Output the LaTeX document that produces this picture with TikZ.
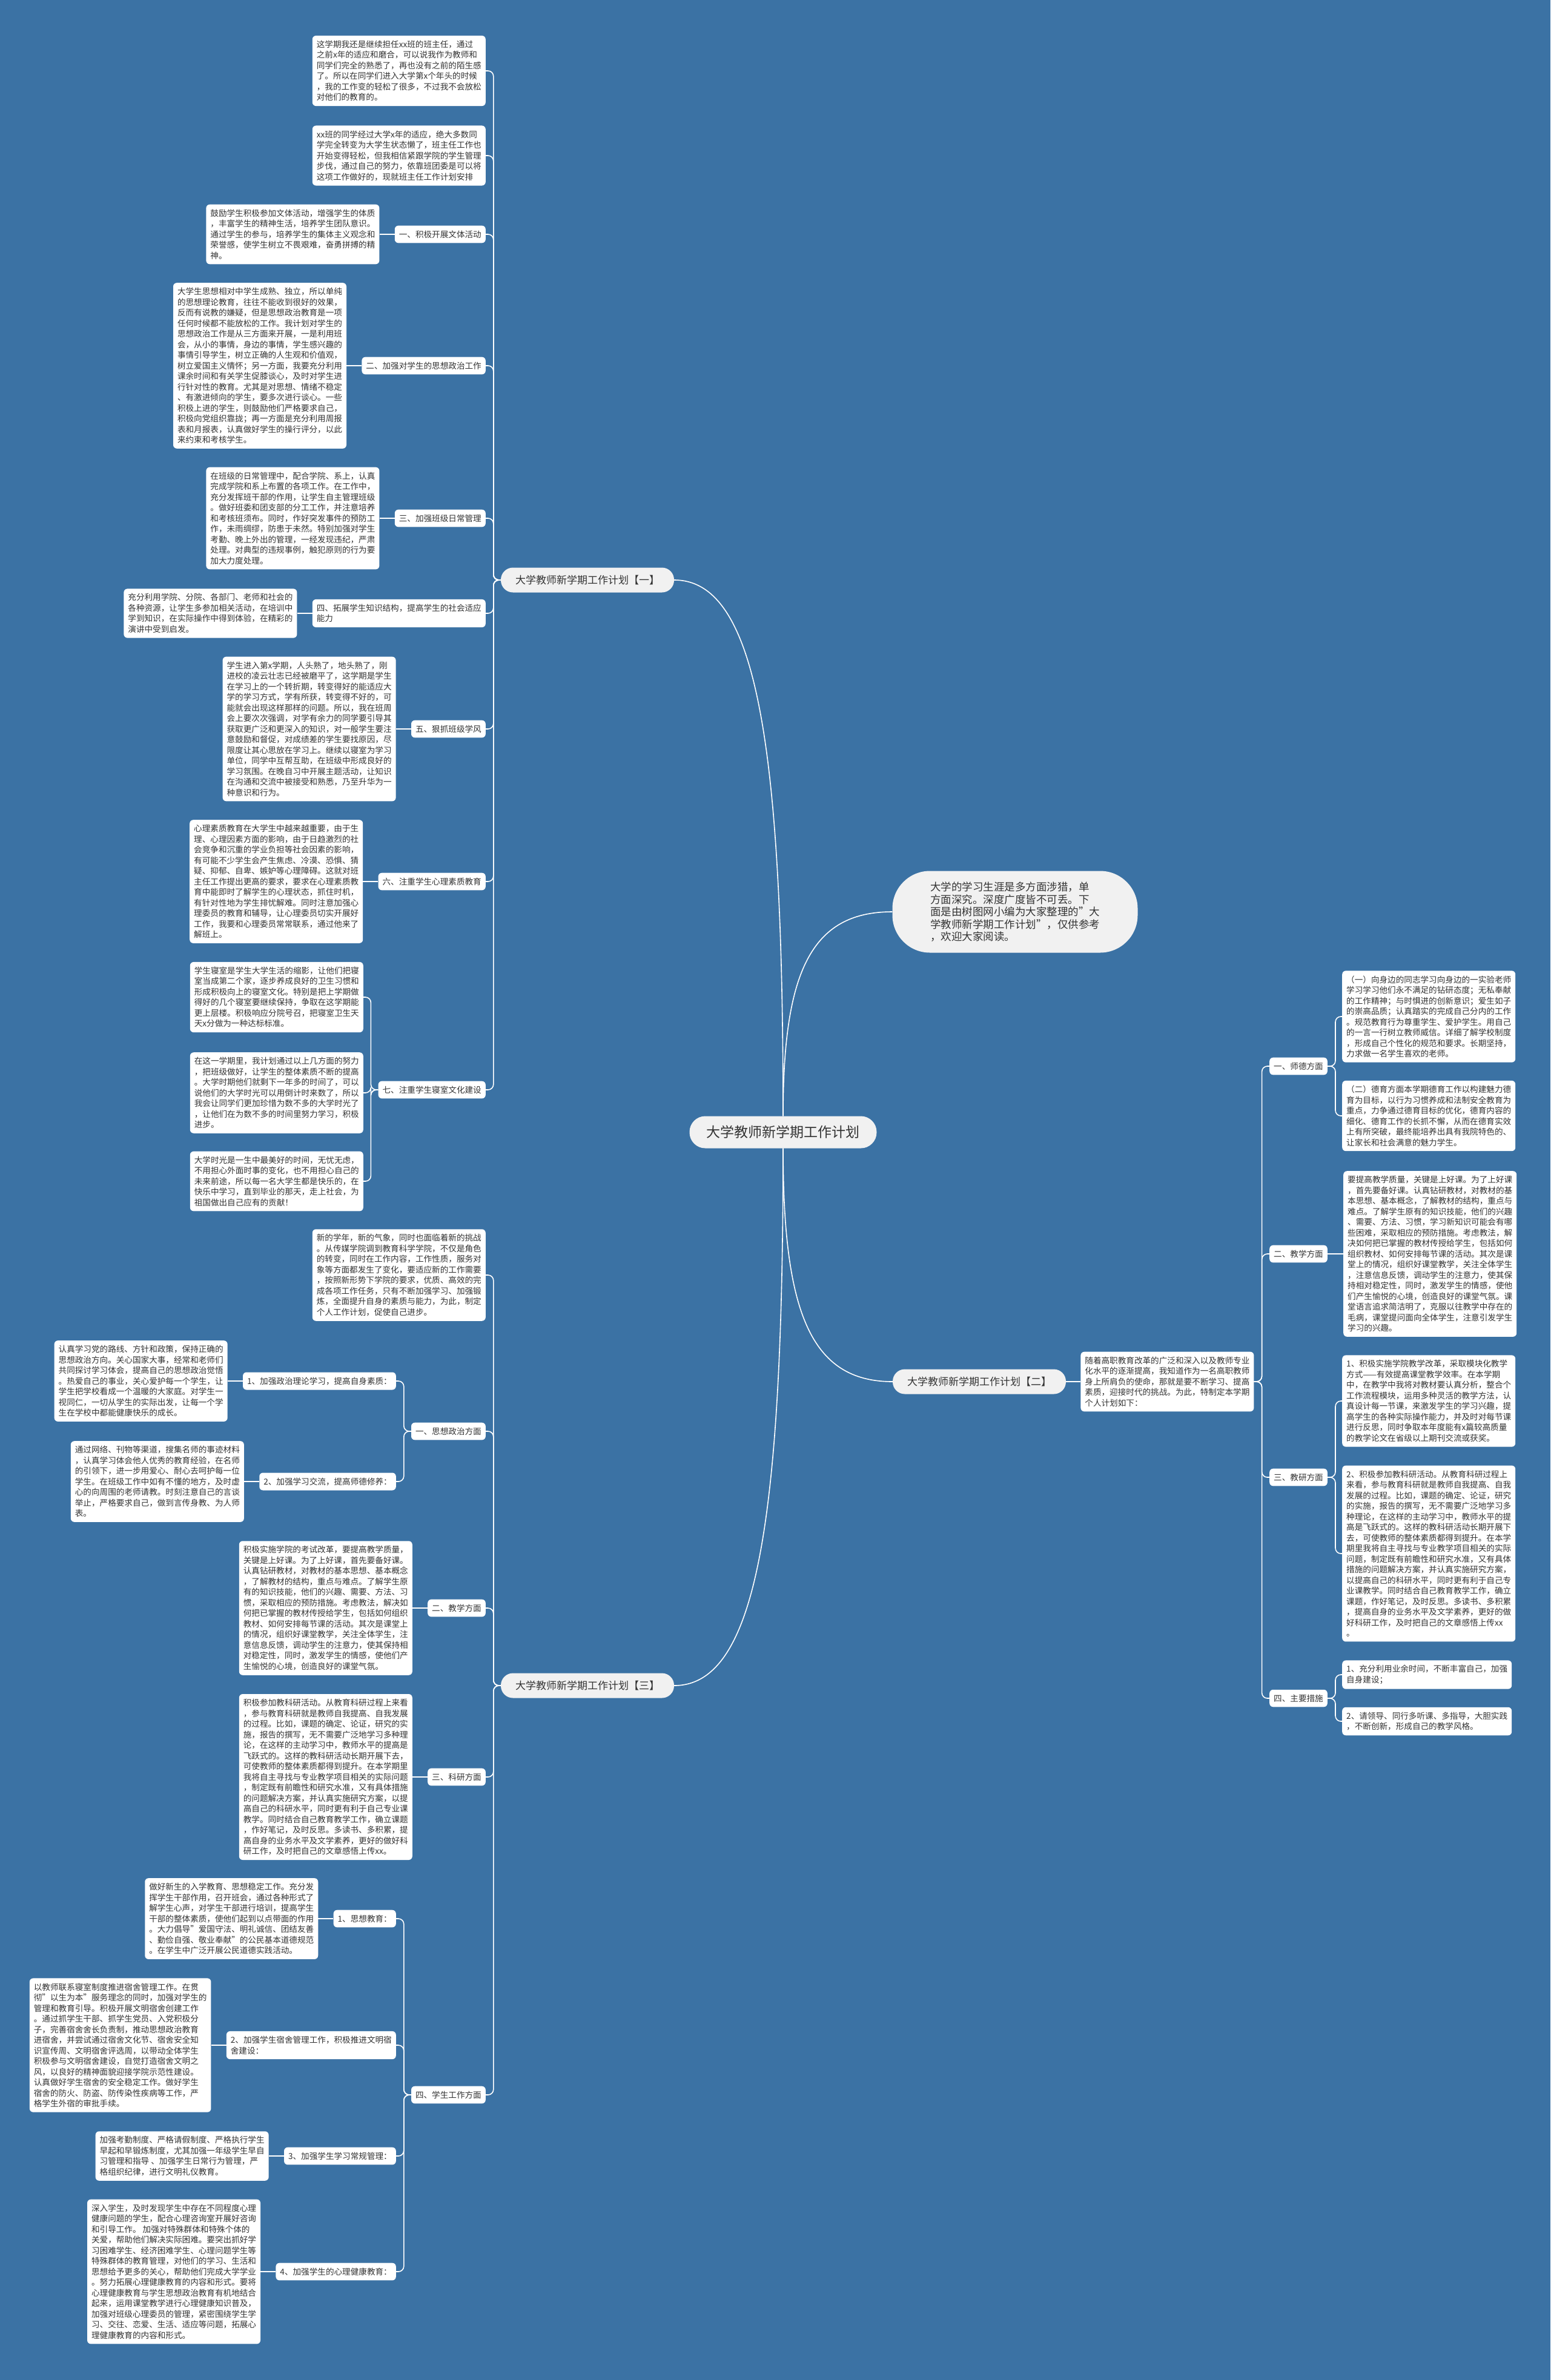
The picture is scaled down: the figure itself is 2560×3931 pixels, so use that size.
\documentclass[tikz,border=0pt]{standalone}
\usepackage{fontspec}
\setmainfont{Noto Sans CJK SC}
\usetikzlibrary{calc,positioning}
\definecolor{Sea}{HTML}{3B72A4}
\definecolor{Pale}{HTML}{F1F1F1}
\definecolor{Ink}{HTML}{333333}
\tikzset{root/.style={fill=Pale,rounded corners=26pt,minimum width=309pt,minimum height=53pt,text=Ink,font=\fontsize{23}{27}\selectfont},branch/.style={fill=Pale,rounded corners=20pt,minimum width=286pt,minimum height=41pt,text=Ink,font=\fontsize{17}{20}\selectfont},intro/.style={fill=Pale,rounded corners=62pt,minimum width=405pt,minimum height=135pt,align=left,text=Ink,font=\fontsize{17.5}{20.5}\selectfont},tag/.style={fill=white,rounded corners=6pt,inner xsep=7pt,inner ysep=8pt,align=left,text=Ink,font=\fontsize{13.6}{17.5}\selectfont},para/.style={tag},link/.style={draw=white,line width=1.6pt},elbow/.style={link,rounded corners=9pt}}
\begin{document}
\begin{tikzpicture}[x=1pt,y=-1pt]
\fill[Sea](0,0)rectangle(2560,3931);\useasboundingbox(0,0)rectangle(2560,3931);
\node[root](root)at(1293,1870){大学教师新学期工作计划};
\node[branch](b1)at(970,958){大学教师新学期工作计划【一】};
\node[branch](b2)at(1617,2282){大学教师新学期工作计划【二】};
\node[branch](b3)at(970,2784){大学教师新学期工作计划【三】};
\node[intro](intro)at(1676,1506){大学的学习生涯是多方面涉猎，单\\方面深究。深度广度皆不可丢。下\\面是由树图网小编为大家整理的"大\\学教师新学期工作计划"，仅供参考\\，欢迎大家阅读。};
\node[para,anchor=east](a1p)at(802,117){这学期我还是继续担任xx班的班主任，通过\\之前x年的适应和磨合，可以说我作为教师和\\同学们完全的熟悉了，再也没有之前的陌生感\\了。所以在同学们进入大学第x个年头的时候\\，我的工作变的轻松了很多，不过我不会放松\\对他们的教育的。};
\node[para,anchor=east](a2p)at(802,257){xx班的同学经过大学x年的适应，绝大多数同\\学完全转变为大学生状态懒了，班主任工作也\\开始变得轻松，但我相信紧跟学院的学生管理\\步伐，通过自己的努力，依靠班团委是可以将\\这项工作做好的，现就班主任工作计划安排};
\node[tag,anchor=east](at1)at(802,387){一、积极开展文体活动};
\node[para,left=25pt of at1](ax1){鼓励学生积极参加文体活动，增强学生的体质\\，丰富学生的精神生活，培养学生团队意识。\\通过学生的参与，培养学生的集体主义观念和\\荣誉感，使学生树立不畏艰难，奋勇拼搏的精\\神。};
\node[tag,anchor=east](at2)at(802,604){二、加强对学生的思想政治工作};
\node[para,left=25pt of at2](ax2){大学生思想相对中学生成熟、独立，所以单纯\\的思想理论教育，往往不能收到很好的效果，\\反而有说教的嫌疑，但是思想政治教育是一项\\任何时候都不能放松的工作。我计划对学生的\\思想政治工作是从三方面来开展，一是利用班\\会，从小的事情，身边的事情，学生感兴趣的\\事情引导学生，树立正确的人生观和价值观，\\树立爱国主义情怀；另一方面，我要充分利用\\课余时间和有关学生促膝谈心，及时对学生进\\行针对性的教育。尤其是对思想、情绪不稳定\\、有激进倾向的学生，要多次进行谈心。一些\\积极上进的学生，则鼓励他们严格要求自己，\\积极向党组织靠拢；再一方面是充分利用周报\\表和月报表，认真做好学生的操行评分，以此\\来约束和考核学生。};
\node[tag,anchor=east](at3)at(802,856){三、加强班级日常管理};
\node[para,left=25pt of at3](ax3){在班级的日常管理中，配合学院、系上，认真\\完成学院和系上布置的各项工作。在工作中，\\充分发挥班干部的作用，让学生自主管理班级\\。做好班委和团支部的分工工作，并注意培养\\和考核班须布。同时，作好突发事件的预防工\\作，未雨绸缪，防患于未然。特别加强对学生\\考勤、晚上外出的管理，一经发现违纪，严肃\\处理。对典型的违规事例，触犯原则的行为要\\加大力度处理。};
\node[tag,anchor=east](at4)at(802,1013){四、拓展学生知识结构，提高学生的社会适应\\能力};
\node[para,left=25pt of at4](ax4){充分利用学院、分院、各部门、老师和社会的\\各种资源，让学生多参加相关活动，在培训中\\学到知识，在实际操作中得到体验，在精彩的\\演讲中受到启发。};
\node[tag,anchor=east](at5)at(802,1204){五、狠抓班级学风};
\node[para,left=25pt of at5](ax5){学生进入第x学期，人头熟了，地头熟了，刚\\进校的凌云壮志已经被磨平了，这学期是学生\\在学习上的一个转折期，转变得好的能适应大\\学的学习方式，学有所获，转变得不好的，可\\能就会出现这样那样的问题。所以，我在班周\\会上要次次强调，对学有余力的同学要引导其\\获取更广泛和更深入的知识，对一般学生要注\\意鼓励和督促，对成绩差的学生要找原因，尽\\限度让其心思放在学习上。继续以寝室为学习\\单位，同学中互帮互助，在班级中形成良好的\\学习氛围。在晚自习中开展主题活动，让知识\\在沟通和交流中被接受和熟悉，乃至升华为一\\种意识和行为。};
\node[tag,anchor=east](at6)at(802,1456){六、注重学生心理素质教育};
\node[para,left=25pt of at6](ax6){心理素质教育在大学生中越来越重要，由于生\\理、心理因素方面的影响，由于日趋激烈的社\\会竞争和沉重的学业负担等社会因素的影响，\\有可能不少学生会产生焦虑、冷漠、恐惧、猜\\疑、抑郁、自卑、嫉妒等心理障碍。这就对班\\主任工作提出更高的要求，要求在心理素质教\\育中能即时了解学生的心理状态，抓住时机，\\有针对性地为学生排忧解难。同时注意加强心\\理委员的教育和辅导，让心理委员切实开展好\\工作，我要和心理委员常常联系，通过他来了\\解班上。};
\node[tag,anchor=east](at7)at(802,1800){七、注重学生寝室文化建设};
\node[para,anchor=east](ax7a)at(600,1647){学生寝室是学生大学生活的缩影，让他们把寝\\室当成第二个家，逐步养成良好的卫生习惯和\\形成积极向上的寝室文化。特别是把上学期做\\得好的几个寝室要继续保持，争取在这学期能\\更上层楼。积极响应分院号召，把寝室卫生天\\天x分做为一种达标标准。};
\node[para,anchor=east](ax7b)at(600,1805){在这一学期里，我计划通过以上几方面的努力\\，把班级做好，让学生的整体素质不断的提高\\。大学时期他们就剩下一年多的时间了，可以\\说他们的大学时光可以用倒计时来数了，所以\\我会让同学们更加珍惜为数不多的大学时光了\\，让他们在为数不多的时间里努力学习，积极\\进步。};
\node[para,anchor=east](ax7c)at(600,1951){大学时光是一生中最美好的时间，无忧无虑，\\不用担心外面时事的变化，也不用担心自己的\\未来前途，所以每一名大学生都是快乐的，在\\快乐中学习，直到毕业的那天，走上社会，为\\祖国做出自己应有的贡献！};
\node[para,right=24pt of b2](bp){随着高职教育改革的广泛和深入以及教师专业\\化水平的逐渐提高，我知道作为一名高职教师\\身上所肩负的使命，那就是要不断学习、提高\\素质，迎接时代的挑战。为此，特制定本学期\\个人计划如下：};
\node[tag,anchor=west](rt1)at(2096,1761){一、师德方面};
\node[tag,anchor=west](rt2)at(2096,2071){二、教学方面};
\node[tag,anchor=west](rt3)at(2096,2440){三、教研方面};
\node[tag,anchor=west](rt4)at(2096,2805){四、主要措施};
\node[para,anchor=west](r1a)at(2216,1679){（一）向身边的同志学习向身边的一实验老师\\学习学习他们永不满足的钻研态度；无私奉献\\的工作精神；与时惧进的创新意识；爱生如子\\的崇高品质；认真踏实的完成自己分内的工作\\。规范教育行为尊重学生、爱护学生。用自己\\的一言一行树立教师威信。详细了解学校制度\\，形成自己个性化的规范和要求。长期坚持，\\力求做一名学生喜欢的老师。};
\node[para,anchor=west](r1b)at(2216,1843){（二）德育方面本学期德育工作以构建魅力德\\育为目标，以行为习惯养成和法制安全教育为\\重点，力争通过德育目标的优化，德育内容的\\细化、德育工作的长抓不懈，从而在德育实效\\上有所突破，最终能培养出具有我院特色的、\\让家长和社会满意的魅力学生。};
\node[para,right=26pt of rt2](r2a){要提高教学质量，关键是上好课。为了上好课\\，首先要备好课。认真钻研教材，对教材的基\\本思想、基本概念，了解教材的结构，重点与\\难点。了解学生原有的知识技能，他们的兴趣\\、需要、方法、习惯，学习新知识可能会有哪\\些困难，采取相应的预防措施。考虑教法，解\\决如何把已掌握的教材传授给学生，包括如何\\组织教材、如何安排每节课的活动。其次是课\\堂上的情况，组织好课堂教学，关注全体学生\\，注意信息反馈，调动学生的注意力，使其保\\持相对稳定性，同时，激发学生的情感，使他\\们产生愉悦的心境，创造良好的课堂气氛。课\\堂语言追求简洁明了，克服以往教学中存在的\\毛病，课堂提问面向全体学生，注意引发学生\\学习的兴趣。};
\node[para,anchor=west](r3a)at(2216,2314){1、积极实施学院教学改革，采取模块化教学\\方式——有效提高课堂教学效率。在本学期\\中，在教学中我将对教材要认真分析，整合个\\工作流程模块，运用多种灵活的教学方法，认\\真设计每一节课，来激发学生的学习兴趣，提\\高学生的各种实际操作能力，并及时对每节课\\进行反思，同时争取本年度能有x篇较高质量\\的教学论文在省级以上期刊交流或获奖。};
\node[para,anchor=west](r3b)at(2216,2566){2、积极参加教科研活动。从教育科研过程上\\来看，参与教育科研就是教师自我提高、自我\\发展的过程。比如，课题的确定、论证，研究\\的实施，报告的撰写，无不需要广泛地学习多\\种理论，在这样的主动学习中，教师水平的提\\高是飞跃式的。这样的教科研活动长期开展下\\去，可使教师的整体素质都得到提升。在本学\\期里我将自主寻找与专业教学项目相关的实际\\问题，制定既有前瞻性和研究水准，又有具体\\措施的问题解决方案，并认真实施研究方案，\\以提高自己的科研水平，同时更有利于自己专\\业课教学。同时结合自己教育教学工作，确立\\课题，作好笔记，及时反思。多读书、多积累\\，提高自身的业务水平及文学素养，更好的做\\好科研工作，及时把自己的文章感悟上传xx\\。};
\node[para,anchor=west](r4a)at(2216,2766){1、充分利用业余时间，不断丰富自己，加强\\自身建设；};
\node[para,anchor=west](r4b)at(2216,2843){2、请领导、同行多听课、多指导，大胆实践\\，不断创新，形成自己的教学风格。};
\node[para,anchor=east](cp)at(802,2106){新的学年，新的气象，同时也面临着新的挑战\\。从传媒学院调到教育科学学院，不仅是角色\\的转变，同时在工作内容，工作性质，服务对\\象等方面都发生了变化，要适应新的工作需要\\，按照新形势下学院的要求，优质、高效的完\\成各项工作任务，只有不断加强学习、加强锻\\炼，全面提升自身的素质与能力，为此，制定\\个人工作计划，促使自己进步。};
\node[tag,anchor=east](ct1)at(802,2364){一、思想政治方面};
\node[tag,anchor=east](cs1)at(654,2281){1、加强政治理论学习，提高自身素质：};
\node[para,left=25pt of cs1](cx1){认真学习党的路线、方针和政策，保持正确的\\思想政治方向。关心国家大事，经常和老师们\\共同探讨学习体会，提高自己的思想政治觉悟\\。热爱自己的事业，关心爱护每一个学生，让\\学生把学校看成一个温暖的大家庭。对学生一\\视同仁，一切从学生的实际出发，让每一个学\\生在学校中都能健康快乐的成长。};
\node[tag,anchor=east](cs2)at(654,2447){2、加强学习交流，提高师德修养：};
\node[para,left=25pt of cs2](cx2){通过网络、刊物等渠道，搜集名师的事迹材料\\，认真学习体会他人优秀的教育经验，在名师\\的引领下，进一步用爱心、耐心去呵护每一位\\学生。在班级工作中如有不懂的地方，及时虚\\心的向周围的老师请教。时刻注意自己的言谈\\举止，严格要求自己，做到言传身教、为人师\\表。};
\node[tag,anchor=east](ct2)at(802,2656){二、教学方面};
\node[para,left=25pt of ct2](cy2){积极实施学院的考试改革，要提高教学质量，\\关键是上好课。为了上好课，首先要备好课。\\认真钻研教材，对教材的基本思想、基本概念\\，了解教材的结构，重点与难点。了解学生原\\有的知识技能，他们的兴趣、需要、方法、习\\惯，采取相应的预防措施。考虑教法，解决如\\何把已掌握的教材传授给学生，包括如何组织\\教材、如何安排每节课的活动。其次是课堂上\\的情况，组织好课堂教学，关注全体学生，注\\意信息反馈，调动学生的注意力，使其保持相\\对稳定性，同时，激发学生的情感，使他们产\\生愉悦的心境，创造良好的课堂气氛。};
\node[tag,anchor=east](ct3)at(802,2935){三、科研方面};
\node[para,left=25pt of ct3](cy3){积极参加教科研活动。从教育科研过程上来看\\，参与教育科研就是教师自我提高、自我发展\\的过程。比如，课题的确定、论证，研究的实\\施，报告的撰写，无不需要广泛地学习多种理\\论，在这样的主动学习中，教师水平的提高是\\飞跃式的。这样的教科研活动长期开展下去，\\可使教师的整体素质都得到提升。在本学期里\\我将自主寻找与专业教学项目相关的实际问题\\，制定既有前瞻性和研究水准，又有具体措施\\的问题解决方案，并认真实施研究方案，以提\\高自己的科研水平，同时更有利于自己专业课\\教学。同时结合自己教育教学工作，确立课题\\，作好笔记，及时反思。多读书、多积累，提\\高自身的业务水平及文学素养，更好的做好科\\研工作，及时把自己的文章感悟上传xx。};
\node[tag,anchor=east](ct4)at(802,3460){四、学生工作方面};
\node[tag,anchor=east](cs3)at(654,3169){1、思想教育：};
\node[para,left=25pt of cs3](cx3){做好新生的入学教育、思想稳定工作。充分发\\挥学生干部作用，召开班会，通过各种形式了\\解学生心声，对学生干部进行培训，提高学生\\干部的整体素质，使他们起到以点带面的作用\\。大力倡导"爱国守法、明礼诚信、团结友善\\、勤俭自强、敬业奉献"的公民基本道德规范\\。在学生中广泛开展公民道德实践活动。};
\node[tag,anchor=east](cs4)at(654,3378){2、加强学生宿舍管理工作，积极推进文明宿\\舍建设：};
\node[para,left=25pt of cs4](cx4){以教师联系寝室制度推进宿舍管理工作。在贯\\彻"以生为本"服务理念的同时，加强对学生的\\管理和教育引导。积极开展文明宿舍创建工作\\。通过抓学生干部、抓学生党员、入党积极分\\子，完善宿舍舍长负责制，推动思想政治教育\\进宿舍，并尝试通过宿舍文化节、宿舍安全知\\识宣传周、文明宿舍评选周，以带动全体学生\\积极参与文明宿舍建设，自觉打造宿舍文明之\\风，以良好的精神面貌迎接学院示范性建设。\\认真做好学生宿舍的安全稳定工作。做好学生\\宿舍的防火、防盗、防传染性疾病等工作，严\\格学生外宿的审批手续。};
\node[tag,anchor=east](cs5)at(654,3561){3、加强学生学习常规管理：};
\node[para,left=25pt of cs5](cx5){加强考勤制度、严格请假制度、严格执行学生\\早起和早锻炼制度，尤其加强一年级学生早自\\习管理和指导 、加强学生日常行为管理，严\\格组织纪律，进行文明礼仪教育。};
\node[tag,anchor=east](cs6)at(654,3752){4、加强学生的心理健康教育：};
\node[para,left=25pt of cs6](cx6){深入学生，及时发现学生中存在不同程度心理\\健康问题的学生，配合心理咨询室开展好咨询\\和引导工作。 加强对特殊群体和特殊个体的\\关爱，帮助他们解决实际困难。要突出抓好学\\习困难学生、经济困难学生、心理问题学生等\\特殊群体的教育管理，对他们的学习、生活和\\思想给予更多的关心，帮助他们完成大学学业\\。努力拓展心理健康教育的内容和形式。要将\\心理健康教育与学生思想政治教育有机地结合\\起来，运用课堂教学进行心理健康知识普及，\\加强对班级心理委员的管理，紧密围绕学生学\\习、交往、恋爱、生活、适应等问题，拓展心\\理健康教育的内容和形式。};
\foreach \s/\e in {root.north/b1.east,root.north/intro.west,root.south/b2.west,root.south/b3.east}\draw[link](\s)..controls($(\s)!.7!(\s|-\e)$)and($(\e)!.75!(\s|-\e)$)..(\e);
\foreach \c in {a1p,a2p,at1,at2,at3,at4,at5,at6,at7}\draw[elbow](b1.west)--++(-12,0)|-(\c.east);
\foreach \i in {1,...,6}\draw[link](at\i.west)--(ax\i.east);
\foreach \c in {ax7a,ax7b,ax7c}\draw[elbow](at7.west)--++(-12,0)|-(\c.east);
\draw[link](b2.east)--(bp.west);
\foreach \c in {rt1,rt2,rt3,rt4}\draw[elbow](bp.east)--++(13,0)|-(\c.west);
\foreach \t/\c in {rt1/r1a,rt1/r1b,rt3/r3a,rt3/r3b,rt4/r4a,rt4/r4b}\draw[elbow](\t.east)--++(13,0)|-(\c.west);
\draw[link](rt2.east)--(r2a.west);
\foreach \c in {cp,ct1,ct2,ct3,ct4}\draw[elbow](b3.west)--++(-12,0)|-(\c.east);
\foreach \i in {1,2}\draw[elbow](ct1.west)--++(-12,0)|-(cs\i.east);
\foreach \i in {3,...,6}\draw[elbow](ct4.west)--++(-12,0)|-(cs\i.east);
\foreach \i in {1,...,6}\draw[link](cs\i.west)--(cx\i.east);
\draw[link](ct2.west)--(cy2.east);\draw[link](ct3.west)--(cy3.east);
\end{tikzpicture}
\end{document}
